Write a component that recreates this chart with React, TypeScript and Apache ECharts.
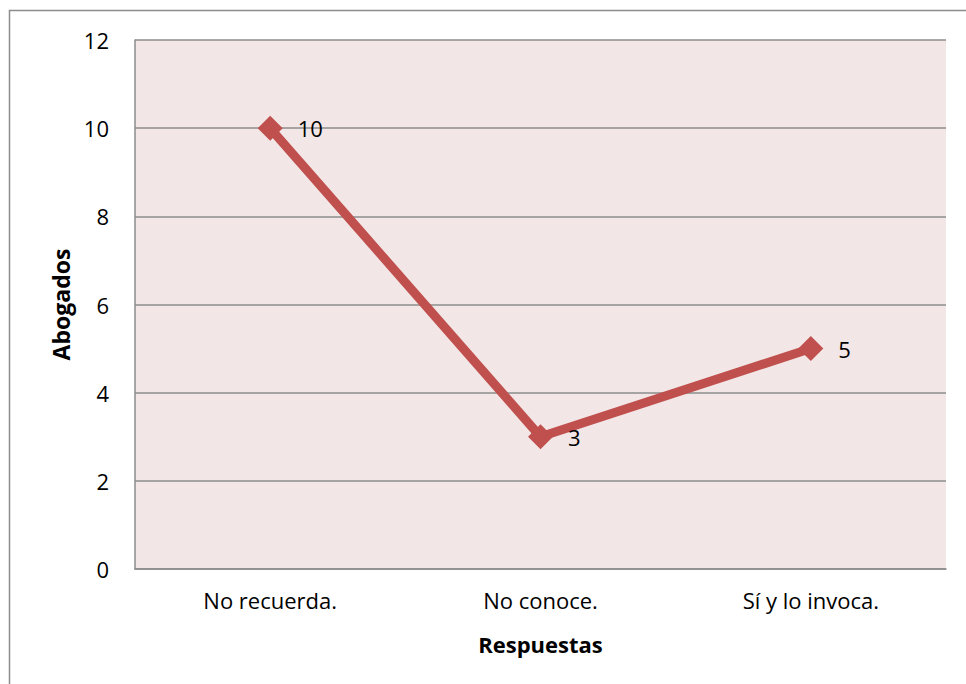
import React, { useEffect, useRef } from "react";
import * as echarts from "echarts";

const categories = ["No recuerda.", "No conoce.", "Sí y lo invoca."];
const values = [10, 3, 5];
const yTicks = { min: 0, max: 12, interval: 2 };
const yTitle = "Abogados";
const xTitle = "Respuestas";

export default function App() {
  const ref = useRef<HTMLDivElement>(null);
  useEffect(() => {
    if (!ref.current) return;
    const chart = echarts.init(ref.current, null, { renderer: "svg" });
    const font = "'Open Sans', 'Noto Sans', sans-serif";
    chart.setOption({
      animation: false,
      textStyle: { fontFamily: font },
      graphic: [
        {
          type: "rect",
          shape: { x: 9.5, y: 10.5, width: 1000, height: 1000 },
          style: { fill: "none", stroke: "#8c8c8c", lineWidth: 1.5 },
          silent: true,
        },
      ],
      grid: {
        left: 135,
        top: 40,
        right: 20,
        bottom: 115,
        show: true,
        backgroundColor: "#F2E6E6",
        borderWidth: 0,
      },
      xAxis: {
        type: "category",
        data: categories,
        boundaryGap: true,
        axisLine: { show: true, lineStyle: { color: "#8c8c8c", width: 1.5 } },
        axisTick: { show: false },
        axisLabel: { color: "#000", fontSize: 22, margin: 20, fontFamily: font },
        name: xTitle,
        nameLocation: "middle",
        nameGap: 64,
        nameTextStyle: { color: "#000", fontSize: 22, fontWeight: "bold", fontFamily: font },
      },
      yAxis: {
        type: "value",
        min: yTicks.min,
        max: yTicks.max,
        interval: yTicks.interval,
        axisLine: { show: true, lineStyle: { color: "#8c8c8c", width: 1.5 } },
        axisTick: { show: false },
        splitLine: { show: true, lineStyle: { color: "#8c8c8c", width: 1.5 } },
        axisLabel: { color: "#000", fontSize: 22, margin: 26, fontFamily: font },
        name: yTitle,
        nameLocation: "middle",
        nameGap: 60,
        nameRotate: 90,
        nameTextStyle: { color: "#000", fontSize: 23, fontWeight: "bold", fontFamily: font },
      },
      series: [
        {
          type: "line",
          data: values,
          symbol: "diamond",
          symbolSize: 25,
          lineStyle: { color: "#C0504D", width: 9 },
          itemStyle: { color: "#C0504D" },
          label: {
            show: true,
            position: "right",
            distance: 15,
            color: "#000",
            fontSize: 22,
            fontFamily: font,
          },
        },
      ],
    });
    return () => chart.dispose();
  }, []);
  return (
    <div
      ref={ref}
      style={{ position: "fixed", left: 0, top: 0, width: 966, height: 684, background: "#fff" }}
    />
  );
}
